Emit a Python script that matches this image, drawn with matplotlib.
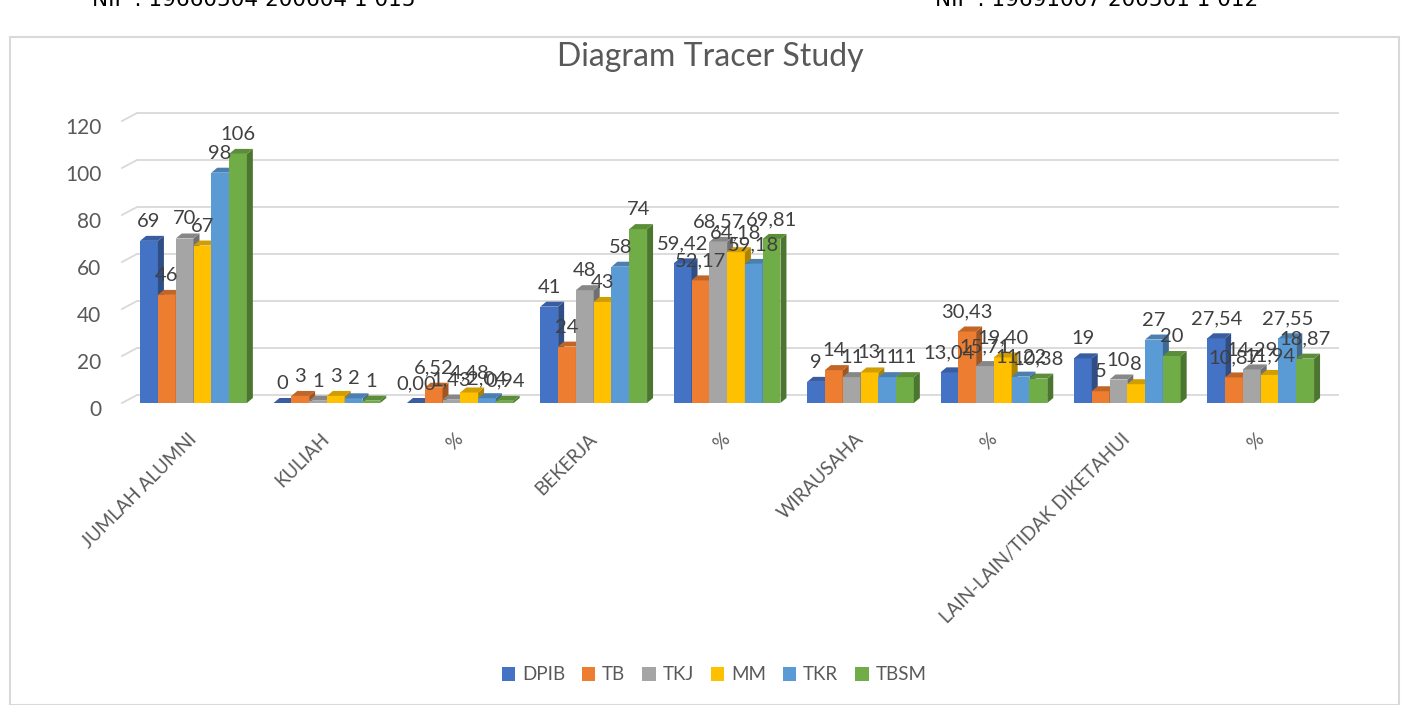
import matplotlib
matplotlib.use('Agg')
import matplotlib.pyplot as plt
from matplotlib.patches import Polygon, Patch, Rectangle
import matplotlib.colors as mcolors
import matplotlib.transforms as mtransforms
import numpy as np

categories = ['JUMLAH ALUMNI', 'KULIAH', '%', 'BEKERJA', '%', 'WIRAUSAHA', '%',
              'LAIN-LAIN/TIDAK DIKETAHUI', '%']
series_names = ['DPIB', 'TB', 'TKJ', 'MM', 'TKR', 'TBSM']
dpib = [69, 0, 0.00, 41, 59.42, 9, 13.04, 19, 27.54]
tb = [46, 3, 6.52, 24, 52.17, 14, 30.43, 5, 10.87]
tkj = [70, 1, 1.43, 48, 68.57, 11, 15.71, 10, 14.29]
mm = [67, 3, 4.48, 43, 64.18, 13, 19.40, 8, 11.94]
tkr = [98, 2, 2.04, 58, 59.18, 11, 11.22, 27, 27.55]
tbsm = [106, 1, 0.94, 74, 69.81, 11, 10.38, 20, 18.87]
series_values = [dpib, tb, tkj, mm, tkr, tbsm]
yticks = [0, 20, 40, 60, 80, 100, 120]
title = 'Diagram Tracer Study'
nip_left = 'NIP : 19660504 200604 1 015'
nip_right = 'NIP : 19691007 200501 1 012'

colors = ['#4472C4', '#ED7D31', '#A5A5A5', '#FFC000', '#5B9BD5', '#70AD47']
text_color = '#595959'
grid_color = '#D9D9D9'
FONT = ['Lato', 'DejaVu Sans']
plt.rcParams['font.family'] = FONT

W, H = 1402, 705
fig = plt.figure(figsize=(W / 100, H / 100), dpi=100)

# outer chart frame
fig.patches.append(Rectangle((10 / W, 0), (1399 - 10) / W, 1 - 37 / H,
                             transform=fig.transFigure, fill=False,
                             edgecolor=grid_color, lw=1.5))
# cut-off header text above chart
for xpix, txt in [(92, nip_left), (935, nip_right)]:
    fig.text(xpix / W, 1 - 6 / H, txt, fontsize=15.5, color='black',
             family=['Liberation Sans Narrow', 'DejaVu Sans'],
             ha='left', va='baseline')

ax_left, ax_right, ax_base, ax_top = 122, 1324, 403, 121
ax = fig.add_axes([ax_left / W, 1 - ax_base / H, (ax_right - ax_left) / W,
                   (ax_base - ax_top) / H])
ax.patch.set_visible(False)
for s in ax.spines.values():
    s.set_visible(False)

px_per_cat = 133.4
x0 = -(193.5 - ax_left) / px_per_cat
x1 = x0 + (ax_right - ax_left) / px_per_cat
ax.set_xlim(x0, x1)
ax.set_ylim(0, 120)
px_per_unit = (ax_base - ax_top) / 120.0

# back-wall gridlines with 3D offset
gdx = 15 / px_per_cat
gdy = 8 / px_per_unit
for v in yticks:
    ax.plot([x0 + gdx, x1 + gdx], [v + gdy, v + gdy], color=grid_color,
            lw=1.3, zorder=0, clip_on=False, solid_capstyle='butt')
    ax.plot([x0, x0 + gdx], [v, v + gdy], color=grid_color, lw=1.3,
            zorder=0, clip_on=False)

n = len(series_values)
group_w = 0.8
w = group_w / n
ddx = 6 / px_per_cat
ddy = 5 / px_per_unit
xs = np.arange(len(categories))


def darker(c, f):
    r, g, b = mcolors.to_rgb(c)
    return (r * f, g * f, b * f)


for gi in range(len(categories)):
    for j in range(n):
        v = series_values[j][gi]
        xc = xs[gi] + (j - (n - 1) / 2) * w
        xl, xr = xc - w / 2, xc + w / 2
        ax.bar(xc, v, width=w, color=colors[j], zorder=3 + gi * 10 + j,
               linewidth=0, clip_on=False)
        side = Polygon([(xr, 0), (xr + ddx, ddy), (xr + ddx, v + ddy), (xr, v)],
                       closed=True, facecolor=darker(colors[j], 0.68),
                       edgecolor='none', zorder=3 + gi * 10 + j, clip_on=False)
        top = Polygon([(xl, v), (xl + ddx, v + ddy), (xr + ddx, v + ddy), (xr, v)],
                      closed=True, facecolor=darker(colors[j], 0.82),
                      edgecolor='none', zorder=3 + gi * 10 + j, clip_on=False)
        ax.add_patch(side)
        ax.add_patch(top)

# data labels
for gi, cat in enumerate(categories):
    for j in range(n):
        v = series_values[j][gi]
        xc = xs[gi] + (j - (n - 1) / 2) * w
        if cat == '%':
            lab = f'{v:.2f}'.replace('.', ',')
        else:
            lab = f'{int(round(v))}'
        ax.annotate(lab, (xc, v), xytext=(0, 11), textcoords='offset pixels',
                    ha='center', va='bottom', fontsize=14.5, color='#404040',
                    zorder=200)

ax.set_yticks(yticks)
ax.set_yticklabels([str(t) for t in yticks])
ax.tick_params(axis='y', length=0, pad=15, labelsize=15, labelcolor=text_color)
shift = mtransforms.ScaledTranslation(0, -5 / 100, fig.dpi_scale_trans)
for lbl in ax.get_yticklabels():
    lbl.set_transform(lbl.get_transform() + shift)

ax.set_xticks(xs)
ax.set_xticklabels(categories)
ax.tick_params(axis='x', length=0, pad=24, labelsize=13.5, labelcolor=text_color)
for lbl in ax.get_xticklabels():
    lbl.set_rotation(45)
    lbl.set_rotation_mode('anchor')
    lbl.set_ha('right')
    lbl.set_va('center')

fig.text(710 / W, 1 - 57 / H, title, ha='center', va='center', fontsize=23,
         color=text_color)

handles = [Patch(facecolor=c, edgecolor='none') for c in colors]
fig.legend(handles, series_names, loc='center', ncol=6,
           bbox_to_anchor=(714 / W, 1 - 675 / H), frameon=False, fontsize=13.5,
           handlelength=0.72, handleheight=0.72, handletextpad=0.36,
           columnspacing=0.9, labelcolor=text_color)

fig.savefig('out.png', dpi=100)
